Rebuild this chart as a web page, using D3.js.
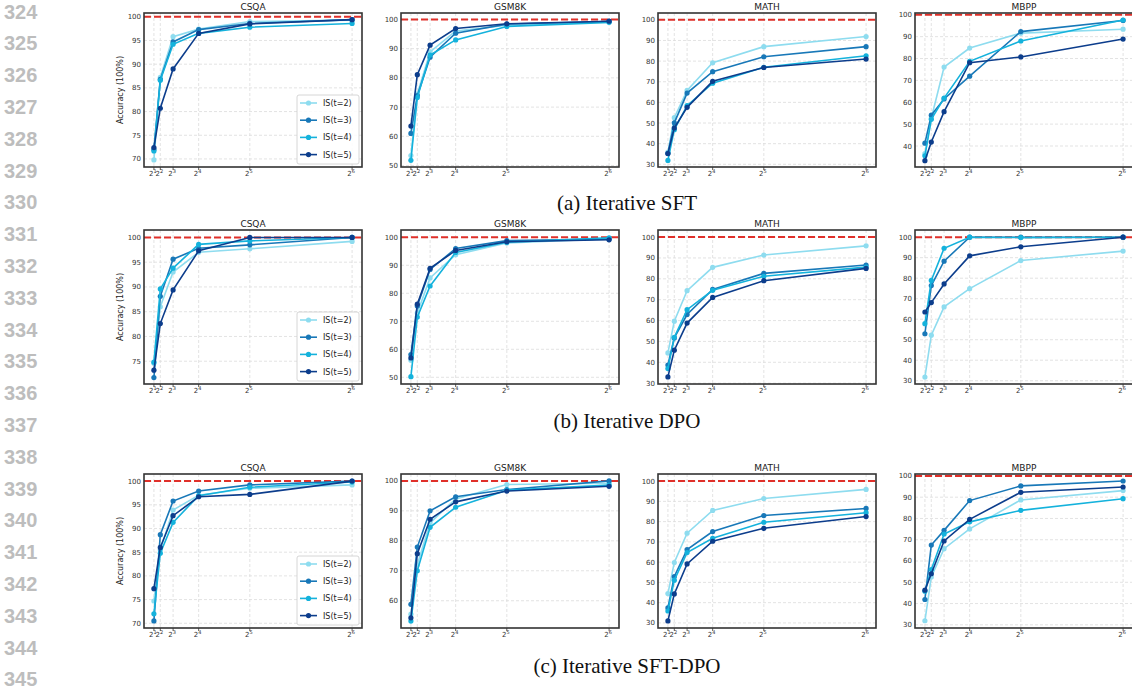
<!DOCTYPE html>
<html>
<head>
<meta charset="utf-8">
<title>Iterative SFT / DPO accuracy</title>
<script src="https://d3js.org/d3.v7.min.js"></script>
<style>
  body { margin: 0; background: #fff; }
  text { font-family: "DejaVu Sans", sans-serif; }
</style>
</head>
<body>
<div id="chart"></div>
<script>
// samples (x axis) and labels
var xs = [2, 4, 8, 16, 32, 64];
var xExp = ["1", "2", "3", "4", "5", "6"];
var seriesNames = ["IS(t=2)", "IS(t=3)", "IS(t=4)", "IS(t=5)"];
var seriesColors = ["#8edcef", "#1878b8", "#14b2dc", "#0c3d8c"];
var datasets = ["CSQA", "GSM8K", "MATH", "MBPP"];
var captions = ["(a) Iterative SFT", "(b) Iterative DPO", "(c) Iterative SFT-DPO"];

// (a) Iterative SFT  -- one row per t=2..5
var sftCSQA = [[69.8, 87.2, 95.8, 97.4, 99.0, 99.3], [72.0, 86.8, 94.7, 97.3, 98.6, 99.4], [71.7, 86.6, 94.2, 96.5, 97.8, 98.6], [72.4, 80.7, 89.0, 96.5, 98.5, 99.4]];
var sftGSM8K = [[53.4, 74.5, 88.9, 96.0, 98.0, 99.2], [61.0, 73.9, 87.1, 95.3, 98.4, 99.3], [51.8, 73.3, 87.8, 93.0, 97.6, 99.0], [63.5, 81.1, 91.2, 96.9, 98.5, 99.4]];
var sftMATH = [[35.9, 52.6, 65.8, 79.2, 87.0, 91.9], [35.3, 50.1, 64.5, 74.9, 82.1, 87.0], [31.9, 46.8, 58.4, 69.3, 77.0, 82.6], [35.2, 47.6, 57.6, 70.2, 76.9, 81.0]];
var sftMBPP = [[36.5, 52.7, 76.1, 84.8, 91.6, 93.4], [41.3, 54.1, 61.5, 71.9, 92.3, 97.4], [35.5, 52.2, 61.9, 78.7, 88.0, 97.6], [33.3, 41.8, 55.7, 78.1, 80.7, 88.9]];

// (b) Iterative DPO
var dpoCSQA = [[74.6, 86.0, 93.0, 97.0, 97.7, 99.2], [71.7, 88.1, 95.6, 97.8, 98.5, 100.0], [74.8, 89.6, 93.8, 98.6, 99.3, 100.0], [73.2, 82.6, 89.4, 97.3, 100.0, 100.0]];
var dpoGSM8K = [[56.1, 73.0, 85.5, 93.8, 98.0, 99.5], [58.1, 75.5, 88.5, 96.0, 98.8, 99.4], [50.2, 71.5, 82.6, 94.6, 98.2, 99.8], [56.9, 76.1, 88.9, 95.3, 98.4, 99.1]];
var dpoMATH = [[44.5, 59.7, 74.3, 85.5, 91.4, 95.8], [38.7, 51.7, 62.9, 74.9, 82.6, 86.6], [37.0, 52.0, 65.2, 74.5, 81.2, 85.6], [33.0, 45.8, 58.8, 71.1, 79.1, 85.0]];
var dpoMBPP = [[31.8, 52.2, 66.0, 74.9, 88.6, 93.2], [52.9, 76.4, 88.3, 100.0, 100.0, 100.0], [57.8, 78.9, 94.6, 100.0, 99.8, 100.0], [63.5, 68.1, 77.2, 90.9, 95.3, 100.0]];

// (c) Iterative SFT-DPO
var sdCSQA = [[74.7, 85.5, 93.9, 97.0, 98.5, 99.2], [70.5, 88.7, 95.8, 97.9, 99.2, 100.0], [72.0, 84.8, 91.3, 96.9, 98.7, 99.8], [77.3, 86.0, 92.7, 96.7, 97.2, 100.0]];
var sdGSM8K = [[55.5, 72.0, 86.0, 94.0, 98.8, 99.2], [58.8, 77.9, 90.0, 94.7, 97.1, 100.0], [53.2, 70.0, 84.5, 91.2, 96.9, 98.6], [54.3, 75.7, 87.2, 93.0, 96.6, 98.2]];
var sdMATH = [[44.5, 59.8, 74.3, 85.5, 91.4, 95.9], [37.4, 52.9, 66.2, 75.1, 83.0, 86.5], [35.9, 51.1, 64.7, 71.8, 79.7, 84.4], [31.0, 44.3, 59.1, 70.3, 76.7, 82.5]];
var sdMBPP = [[31.9, 52.5, 65.8, 75.1, 88.7, 93.1], [41.9, 67.5, 74.4, 88.4, 95.3, 97.6], [45.8, 56.0, 72.7, 78.4, 83.8, 89.3], [46.3, 54.0, 69.4, 79.6, 92.3, 94.8]];

var rows = [
  [sftCSQA, sftGSM8K, sftMATH, sftMBPP],
  [dpoCSQA, dpoGSM8K, dpoMATH, dpoMBPP],
  [sdCSQA, sdGSM8K, sdMATH, sdMBPP]
];

// y limits
var yLims = [
  [[68.3, 100.8], [49.5, 102.2], [28.7, 103.3], [30.4, 100.8]],
  [[70.4, 101.5], [47.6, 102.6], [29.6, 103.4], [28.4, 103.5]],
  [[69.0, 101.5], [50.9, 102.3], [27.5, 103.5], [28.5, 100.9]]
];
var yStep = [5, 10, 10, 10];

// layout
var width = 1132, height = 689;
var panelLeft = [144, 401, 658, 915];
var panelW = 218, panelH = 154;
var rowTop = [13, 230, 474];
var captionY = [210, 428, 673];

var svg = d3.select("#chart").append("svg")
  .attr("width", width)
  .attr("height", height)
  .style("background", "#fff");

// line numbers on the margin
d3.range(324, 346).forEach(function (n, i) {
  svg.append("text")
    .attr("x", 4)
    .attr("y", 18.5 + i * 31.8)
    .style("font-family", "'Liberation Sans', sans-serif")
    .attr("font-size", 20)
    .attr("font-weight", "bold")
    .attr("fill", "#bdbdbd")
    .text(n);
});

// captions
captions.forEach(function (c, i) {
  svg.append("text")
    .attr("x", 627)
    .attr("y", captionY[i])
    .attr("text-anchor", "middle")
    .style("font-family", "'Liberation Serif', serif")
    .attr("font-size", 21)
    .attr("fill", "#111")
    .text(c);
});

function drawPanel(r, c) {
  var left = panelLeft[c], top = rowTop[r];
  var values = rows[r][c];
  var g = svg.append("g").attr("transform", "translate(" + left + "," + top + ")");

  var x = d3.scaleLinear().domain([2 - 3.1, 64 + 3.1]).range([0, panelW]);
  var y = d3.scaleLinear().domain(yLims[r][c]).range([panelH, 0]);
  var yt = d3.range(0, 101, yStep[c]).filter(function (v) {
    return v >= yLims[r][c][0] && v <= yLims[r][c][1];
  });

  // grid
  g.selectAll(".hg").data(yt).enter().append("line")
    .attr("x1", 0).attr("x2", panelW)
    .attr("y1", function (d) { return y(d); })
    .attr("y2", function (d) { return y(d); })
    .attr("stroke", "#dcdcdc").attr("stroke-width", 0.8)
    .attr("stroke-dasharray", "3,2");
  g.selectAll(".vg").data(xs).enter().append("line")
    .attr("y1", 0).attr("y2", panelH)
    .attr("x1", function (d) { return x(d); })
    .attr("x2", function (d) { return x(d); })
    .attr("stroke", "#dcdcdc").attr("stroke-width", 0.8)
    .attr("stroke-dasharray", "3,2");

  var clip = "clip-" + r + "-" + c;
  g.append("clipPath").attr("id", clip).append("rect")
    .attr("width", panelW).attr("height", panelH);

  // 100% reference line
  g.append("line")
    .attr("clip-path", "url(#" + clip + ")")
    .attr("x1", 0).attr("x2", panelW)
    .attr("y1", y(100)).attr("y2", y(100))
    .attr("stroke", "#e0302a").attr("stroke-width", 2)
    .attr("stroke-dasharray", "7,3");

  var line = d3.line()
    .x(function (d, i) { return x(xs[i]); })
    .y(function (d) { return y(d); });

  values.forEach(function (vals, s) {
    g.append("path")
      .attr("d", line(vals))
      .attr("fill", "none")
      .attr("stroke", seriesColors[s])
      .attr("stroke-width", 1.6);
    g.selectAll(".m" + s).data(vals).enter().append("circle")
      .attr("cx", function (d, i) { return x(xs[i]); })
      .attr("cy", function (d) { return y(d); })
      .attr("r", 2.6)
      .attr("fill", seriesColors[s]);
  });

  // frame
  g.append("rect")
    .attr("width", panelW).attr("height", panelH)
    .attr("fill", "none").attr("stroke", "#333").attr("stroke-width", 1.6);

  // y tick labels
  g.selectAll(".yl").data(yt).enter().append("text")
    .attr("x", -3)
    .attr("y", function (d) { return y(d) + 2.5; })
    .attr("text-anchor", "end")
    .attr("font-size", 7)
    .attr("fill", "#333")
    .text(function (d) { return d; });

  // x ticks and labels 2^k
  g.selectAll(".xt").data(xs).enter().append("line")
    .attr("x1", function (d) { return x(d); })
    .attr("x2", function (d) { return x(d); })
    .attr("y1", panelH).attr("y2", panelH + 3)
    .attr("stroke", "#333").attr("stroke-width", 0.8);
  var xl = g.selectAll(".xl").data(xs).enter().append("text")
    .attr("x", function (d) { return x(d) - 1; })
    .attr("y", panelH + 9)
    .attr("text-anchor", "middle")
    .attr("font-size", 7)
    .attr("fill", "#333");
  xl.append("tspan").text("2");
  xl.append("tspan").attr("dy", -3).attr("font-size", 5)
    .text(function (d, i) { return xExp[i]; });

  // title
  g.append("text")
    .attr("x", panelW / 2).attr("y", -3.5)
    .attr("text-anchor", "middle")
    .attr("font-size", 9)
    .attr("fill", "#222")
    .text(datasets[c]);

  if (c === 0) {
    g.append("text")
      .attr("transform", "translate(-21," + panelH / 2 + ") rotate(-90)")
      .attr("text-anchor", "middle")
      .attr("font-size", 8)
      .attr("fill", "#222")
      .text("Accuracy (100%)");

    // legend, lower right
    var lw = 62, lh = 69;
    var lg = g.append("g").attr("transform", "translate(" + (panelW - lw - 3) + "," + (panelH - lh - 3) + ")");
    lg.append("rect")
      .attr("width", lw).attr("height", lh).attr("rx", 2)
      .attr("fill", "#fff").attr("fill-opacity", 0.85)
      .attr("stroke", "#cccccc").attr("stroke-width", 0.8);
    seriesNames.forEach(function (name, s) {
      var yy = 8 + s * 17.2;
      lg.append("line")
        .attr("x1", 3).attr("x2", 20).attr("y1", yy).attr("y2", yy)
        .attr("stroke", seriesColors[s]).attr("stroke-width", 1.6);
      lg.append("circle").attr("cx", 11.5).attr("cy", yy).attr("r", 2.6)
        .attr("fill", seriesColors[s]);
      lg.append("text")
        .attr("x", 26).attr("y", yy + 3)
        .attr("font-size", 8).attr("fill", "#222")
        .text(name);
    });
  }
}

for (var r = 0; r < 3; r++) {
  for (var c = 0; c < 4; c++) {
    drawPanel(r, c);
  }
}
</script>
</body>
</html>
